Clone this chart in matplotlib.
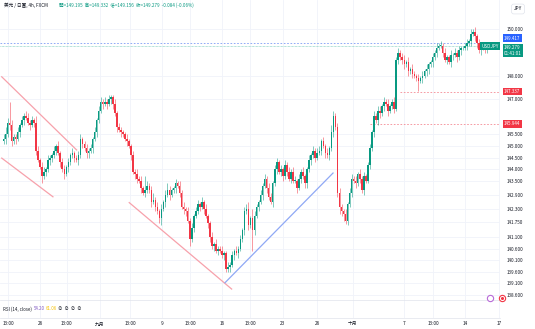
import numpy as np
import matplotlib.pyplot as plt

plt.rcParams['font.family'] = ['Noto Sans CJK TC', 'DejaVu Sans']

# closes of the 4h candles, 6 per trading day
close = [
    145.3, 145.5, 146.0, 145.9, 145.2, 145.4,
    145.3, 145.6, 145.9, 146.1, 146.3, 146.2,
    146.0, 145.9, 146.1, 146.0, 144.8, 144.4,
    144.1, 143.7, 143.9, 144.0, 144.4, 144.5,
    144.6, 144.8, 145.0, 144.7, 144.3, 144.0,
    143.8, 144.1, 144.3, 144.6, 144.7, 144.5,
    144.4, 144.6, 145.3, 145.1, 144.9, 144.7,
    144.8, 144.9, 145.3, 145.6, 146.1, 146.5,
    146.9, 146.8, 146.9, 146.8, 147.0, 147.1,
    146.8, 146.4, 145.8, 145.7, 145.6, 145.5,
    145.3, 145.2, 145.0, 144.6, 143.9, 143.8,
    143.6, 143.5, 143.2, 143.0, 143.1, 143.3,
    143.1, 142.6, 142.7, 142.4, 142.2, 141.9,
    142.3, 142.6, 142.9, 143.1, 142.9, 143.1,
    143.2, 143.4, 143.3, 143.0, 142.4, 142.3,
    142.2, 141.8, 141.0, 141.5, 142.0, 142.2,
    142.5, 142.4, 142.6, 142.3, 142.0, 141.7,
    141.1, 140.7, 140.8, 140.5, 140.6, 140.5,
    140.3, 140.4, 139.7, 139.8, 139.9, 140.3,
    140.5, 140.4, 140.6, 141.0, 141.4, 142.2,
    142.3, 141.6, 141.9, 141.4, 142.0, 142.4,
    142.6, 142.9, 143.3, 143.6, 143.2, 142.8,
    142.6, 143.4, 144.0, 144.3, 143.9, 144.0,
    143.7, 144.2, 143.9, 143.6, 143.9, 143.5,
    143.5, 143.2, 143.6, 143.9, 143.7, 143.4,
    144.0, 144.4, 144.6, 144.8, 144.5, 144.7,
    144.8, 145.2, 145.0, 144.7, 144.6, 144.9,
    145.6, 146.3, 145.8, 143.0, 142.4, 142.2,
    142.1, 141.8, 142.5, 143.0, 143.6, 143.5,
    143.4, 143.8, 143.6, 143.1, 143.7, 143.5,
    144.2, 144.9, 145.6, 146.3, 146.1, 146.5,
    146.4, 146.7, 146.9, 146.8, 146.5, 146.7,
    146.9, 146.6, 148.7, 149.0, 148.8, 148.7,
    148.5, 148.6, 148.2, 148.3, 148.1, 148.0,
    147.9, 147.8, 147.9, 148.0, 148.2, 148.3,
    148.5, 148.6, 148.8, 149.0, 149.2, 149.3,
    149.3, 149.0, 148.7, 148.8, 148.6, 148.9,
    148.9, 149.0, 148.8, 149.1, 149.2, 149.2,
    149.3, 149.4, 149.5, 149.8, 149.9, 149.7,
    149.4, 149.1, 149.3, 149.2, 149.1, 149.195,
    149.279,
]
first_open = 145.2

# wick lengths above / below the body
up_wick = [
    0.2, 0.3, 0.2, 0.9, 0.2, 0.1,
    0.1, 0.2, 0.1, 0.2, 0.1, 0.2,
    0.2, 0.1, 0.2, 0.1, 0.3, 0.2,
    0.1, 0.2, 0.2, 0.1, 0.2, 0.1,
    0.1, 0.2, 0.1, 0.2, 0.1, 0.2,
    0.2, 0.1, 0.2, 0.1, 0.2, 0.1,
    0.1, 0.2, 0.2, 0.1, 0.1, 0.2,
    0.1, 0.2, 0.1, 0.2, 0.1, 0.2,
    0.2, 0.1, 0.2, 0.1, 0.2, 0.1,
    0.1, 0.2, 0.1, 0.2, 0.1, 0.1,
    0.1, 0.2, 0.1, 0.1, 0.2, 0.1,
    0.2, 0.1, 0.2, 0.1, 0.6, 0.2,
    0.1, 0.2, 0.3, 0.1, 0.2, 0.1,
    0.2, 0.1, 0.2, 0.3, 0.2, 0.1,
    0.1, 0.2, 0.1, 0.2, 0.1, 0.2,
    0.1, 0.2, 0.1, 0.2, 0.1, 0.2,
    0.2, 0.1, 0.2, 0.1, 0.2, 0.1,
    0.1, 0.2, 0.1, 0.2, 0.1, 0.1,
    0.2, 0.1, 0.1, 0.2, 0.1, 0.2,
    0.1, 0.2, 0.1, 0.2, 0.1, 0.2,
    0.2, 0.3, 0.1, 0.4, 0.2, 0.1,
    0.1, 0.2, 0.1, 0.2, 0.1, 0.2,
    0.2, 0.1, 0.2, 0.2, 0.1, 0.2,
    0.1, 0.2, 0.1, 0.2, 0.1, 0.2,
    0.2, 0.1, 0.2, 0.1, 0.2, 0.1,
    0.1, 0.2, 0.1, 0.2, 0.1, 0.2,
    0.2, 0.1, 0.2, 0.1, 0.2, 0.1,
    0.3, 0.2, 0.1, 0.2, 0.2, 0.1,
    0.1, 0.2, 0.1, 0.2, 0.2, 0.1,
    0.2, 0.1, 0.2, 0.1, 0.2, 0.1,
    0.1, 0.2, 0.1, 0.2, 0.1, 0.2,
    0.2, 0.1, 0.2, 0.1, 0.2, 0.1,
    0.1, 0.2, 0.1, 0.2, 0.1, 0.2,
    0.2, 0.1, 0.2, 0.1, 0.2, 0.1,
    0.1, 0.2, 0.1, 0.2, 0.1, 0.2,
    0.1, 0.1, 0.2, 0.1, 0.2, 0.1,
    0.2, 0.1, 0.2, 0.1, 0.1, 0.2,
    0.1, 0.2, 0.1, 0.2, 0.1, 0.1,
    0.1, 0.2, 0.1, 0.2, 0.1, 0.2,
    0.1, 0.2, 0.1, 0.1, 0.1, 0.1,
    0.053,
]
dn_wick = [
    0.1, 0.2, 0.1, 0.2, 0.2, 0.1,
    0.2, 0.1, 0.2, 0.1, 0.2, 0.1,
    0.1, 0.2, 0.1, 0.2, 0.2, 0.1,
    0.1, 0.3, 0.1, 0.2, 0.1, 0.2,
    0.2, 0.1, 0.2, 0.1, 0.2, 0.1,
    0.2, 0.1, 0.2, 0.1, 0.1, 0.2,
    0.1, 0.2, 0.1, 0.2, 0.1, 0.2,
    0.2, 0.1, 0.2, 0.1, 0.2, 0.1,
    0.1, 0.2, 0.1, 0.2, 0.1, 0.2,
    0.2, 0.1, 0.2, 0.1, 0.2, 0.1,
    0.1, 0.2, 0.1, 0.2, 0.1, 0.2,
    0.2, 0.1, 0.2, 0.1, 0.2, 0.1,
    0.1, 0.2, 0.1, 0.2, 0.1, 0.2,
    0.3, 0.1, 0.2, 0.1, 0.2, 0.1,
    0.1, 0.2, 0.1, 0.2, 0.1, 0.2,
    0.2, 0.1, 0.3, 0.1, 0.2, 0.1,
    0.1, 0.2, 0.1, 0.2, 0.1, 0.2,
    0.2, 0.1, 0.2, 0.1, 0.2, 0.1,
    0.1, 0.2, 0.12, 0.1, 0.2, 0.1,
    0.2, 0.1, 0.2, 0.1, 0.1, 0.2,
    0.1, 0.2, 0.1, 0.9, 0.2, 0.1,
    0.2, 0.1, 0.2, 0.1, 0.2, 0.1,
    0.1, 0.2, 0.1, 0.2, 0.1, 0.2,
    0.2, 0.1, 0.2, 0.1, 0.2, 0.1,
    0.1, 0.2, 0.1, 0.2, 0.1, 0.2,
    0.2, 0.1, 0.2, 0.1, 0.2, 0.1,
    0.1, 0.2, 0.1, 0.2, 0.1, 0.2,
    0.1, 0.2, 0.1, 0.2, 0.3, 0.2,
    0.3, 0.15, 0.2, 0.1, 0.2, 0.1,
    0.2, 0.1, 0.2, 0.1, 0.2, 0.1,
    0.1, 0.2, 0.1, 0.2, 0.1, 0.2,
    0.2, 0.1, 0.2, 0.1, 0.2, 0.1,
    0.1, 0.2, 0.1, 0.2, 0.1, 0.2,
    0.2, 0.1, 0.2, 0.1, 0.2, 0.1,
    0.1, 0.46, 0.1, 0.2, 0.1, 0.2,
    0.2, 0.1, 0.2, 0.1, 0.2, 0.1,
    0.1, 0.2, 0.1, 0.2, 0.1, 0.2,
    0.2, 0.1, 0.2, 0.1, 0.2, 0.1,
    0.1, 0.2, 0.1, 0.2, 0.1, 0.2,
    0.2, 0.1, 0.2, 0.1, 0.1, 0.1,
    0.039,
]

tick_pos = [2.2, 18, 31.3, 47.6, 62.5, 78.3, 92.1, 107.9, 121.8, 138, 154.9,
            172.6, 197.9, 212.2, 228, 244.8]
tick_lab = ['13:00', '26', '13:00', '九月', '13:00', '9', '13:00', '16', '13:00',
            '23', '26', '十月', '7', '13:00', '14', '17']
price_ticks = [150.0, 148.0, 147.0, 145.5, 145.0, 144.5, 144.0, 143.5, 142.9,
               142.3, 141.75, 141.1, 140.6, 140.1, 139.6, 139.1, 138.6]

# drawn trend lines (start / end as candle index, price)
chan_top = [(-0.9, 147.97), (36.1, 144.83)]
chan_bot = [(-0.9, 144.48), (24.4, 142.82)]
big_down = [(62.1, 142.57), (112.7, 138.86)]
up_line = [(109.4, 139.13), (162.8, 143.84)]

last_price = 149.279
prev_close = 149.417
level_hi = 147.337
level_lo = 145.944

UP = '#089981'
DN = '#f23645'
GRID = '#f0f3fa'
TXT = '#131722'

close = np.array(close)
opens = np.concatenate([[first_open], close[:-1]])
highs = np.maximum(opens, close) + np.array(up_wick)
lows = np.minimum(opens, close) - np.array(dn_wick)
idx = np.arange(len(close))
is_up = close >= opens

W, H = 535, 329
fig = plt.figure(figsize=(W / 100, H / 100), dpi=100)
ax = fig.add_axes([0, 29 / H, 500 / W, 300 / H])
ax2 = fig.add_axes([0, 11 / H, 500 / W, 18 / H])

xlim = (-1.76, 245.3)
ax.set_xlim(*xlim)
ax.set_ylim(138.39, 151.266)

for p in price_ticks:
    ax.axhline(p, color=GRID, lw=0.6, zorder=0)
for t in tick_pos:
    ax.axvline(t, color=GRID, lw=0.6, zorder=0)
    ax2.axvline(t, color=GRID, lw=0.6, zorder=0)

# candles
cols = np.where(is_up, UP, DN)
ax.vlines(idx, lows, highs, colors=cols, lw=0.6, alpha=0.6, zorder=2)
body_h = np.maximum(np.abs(close - opens), 0.025)
ax.bar(idx, body_h, bottom=np.minimum(opens, close), width=0.75,
       color=cols, lw=0, zorder=3)

# trend lines
for seg, c in [(chan_top, '#f7a1ab'), (chan_bot, '#f7a1ab'),
               (big_down, '#f7a1ab'), (up_line, '#8fa8f5')]:
    ax.plot([seg[0][0], seg[1][0]], [seg[0][1], seg[1][1]], color=c, lw=0.9, zorder=4)

# price lines
ax.axhline(prev_close, color='#7f9cf5', lw=0.6, ls=(0, (2, 2)), zorder=1)
ax.axhline(last_price, color='#6cc6b4', lw=0.5, ls=(0, (1, 1)), zorder=1)
ax.plot([195.9, xlim[1]], [level_hi, level_hi], color='#f48a94', lw=0.6,
        ls=(0, (2, 2)), zorder=1)
ax.plot([181, xlim[1]], [level_lo, level_lo], color='#f48a94', lw=0.6,
        ls=(0, (2, 2)), zorder=1)

# right price scale
ax.yaxis.tick_right()
ax.set_yticks(price_ticks)
ax.set_yticklabels(['%.3f' % p for p in price_ticks])
ax.tick_params(axis='y', length=0, pad=5, labelsize=3.3, labelcolor=TXT)
ax.tick_params(axis='x', bottom=False, labelbottom=False)
for s in ax.spines.values():
    s.set_visible(False)

tr = ax.get_yaxis_transform()
box = dict(boxstyle='square,pad=0.3', ec='none')
# the two labels near the last price are pushed apart like the reference does
ax.text(1.008, 149.63, '149.417', transform=tr, ha='left', va='center',
        fontsize=3.3, color='white', bbox=dict(box, fc='#2962ff'), clip_on=False)
ax.text(1.008, 149.1, '149.279\n01:41:01', transform=tr, ha='left',
        va='center', fontsize=3.3, color='white', linespacing=1.2,
        bbox=dict(box, fc=UP), clip_on=False)
ax.text(0.998, last_price, 'USDJPY', transform=tr, ha='right', va='center',
        fontsize=3.3, color='white', bbox=dict(box, fc=UP), clip_on=False)
ax.text(1.008, level_hi, '147.337', transform=tr, ha='left', va='center',
        fontsize=3.3, color='white', bbox=dict(box, fc=DN), clip_on=False)
ax.text(1.008, level_lo, '145.944', transform=tr, ha='left', va='center',
        fontsize=3.3, color='white', bbox=dict(box, fc=DN), clip_on=False)

fig.text(518 / W, 1 - 9 / H, 'JPY', ha='center', va='center', fontsize=3.5,
         color=TXT, bbox=dict(boxstyle='round,pad=0.5', fc='white', ec='#e0e3eb', lw=0.5))

# legend line at top
fig.text(4 / W, 1 - 5 / H, '美元 / 日圓, 4h, FXCM', ha='left', va='center',
         fontsize=3.3, color=TXT)
fig.text(59 / W, 1 - 5 / H,
         '開=149.195  高=149.332  低=149.156  收=149.279  -0.084 (-0.06%)',
         ha='left', va='center', fontsize=3.3, color=UP)

# event markers near the bottom of the price pane
fig.add_artist(plt.Line2D([490 / W], [31 / H], marker='o', ms=4.5, mfc='white',
                          mec='#b86ad8', mew=0.8, transform=fig.transFigure))
fig.add_artist(plt.Line2D([502 / W], [31 / H], marker='o', ms=4.5, mfc='white',
                          mec=DN, mew=0.8, transform=fig.transFigure))
fig.add_artist(plt.Line2D([502 / W], [31 / H], marker='o', ms=1.2, mfc=DN,
                          mec=DN, transform=fig.transFigure))

# RSI pane + time axis
ax2.set_xlim(*xlim)
ax2.set_ylim(0, 1)
ax2.set_yticks([])
ax2.set_xticks(tick_pos)
ax2.set_xticklabels(tick_lab)
ax2.tick_params(axis='x', length=0, pad=2.5, labelsize=3.4, labelcolor=TXT)
for k in ['left', 'right']:
    ax2.spines[k].set_visible(False)
ax2.spines['top'].set_color('#e0e3eb')
ax2.spines['bottom'].set_color('#e0e3eb')
ax2.spines['top'].set_linewidth(0.5)
ax2.spines['bottom'].set_linewidth(0.5)
ax2.text(0.006, 0.5, 'RSI (14, close)', transform=ax2.transAxes, fontsize=3.2,
         color=TXT, va='center')
ax2.text(0.068, 0.5, '54.20', transform=ax2.transAxes, fontsize=3.2,
         color='#7e57c2', va='center')
ax2.text(0.092, 0.5, '61.06', transform=ax2.transAxes, fontsize=3.2,
         color='#f5c000', va='center')
ax2.text(0.116, 0.5, '∅  ∅  ∅  ∅', transform=ax2.transAxes, fontsize=3.2,
         color=TXT, va='center')

fig.savefig('out.png', dpi=100)
